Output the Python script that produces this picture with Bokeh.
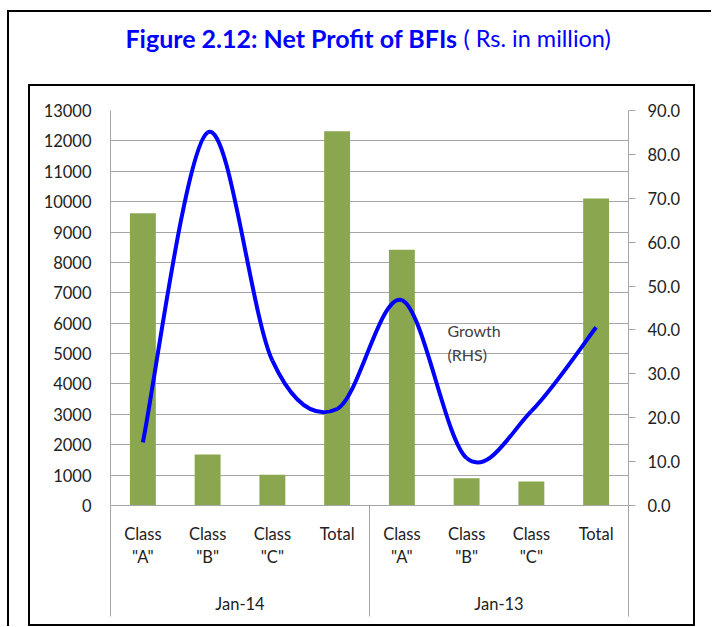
from bokeh.plotting import figure
from bokeh.layouts import row, column
from bokeh.models import (Range1d, LinearAxis, FixedTicker, NumeralTickFormatter,
                          Label, Grid, Spacer)
from bokeh.core.properties import value
from bokeh.embed import file_html
from bokeh.resources import INLINE

# ---------------- data ----------------
categories = ['Class\n"A"', 'Class\n"B"', 'Class\n"C"', 'Total',
              'Class\n"A"', 'Class\n"B"', 'Class\n"C"', 'Total']
groups = ["Jan-14", "Jan-13"]
net_profit = [9620, 1680, 1010, 12320, 8420, 900, 790, 10100]
growth = [14.4, 85.0, 33.0, 22.0, 46.8, 10.8, 21.5, 40.6]
left_ticks = list(range(0, 13001, 1000))
right_ticks = list(range(0, 91, 10))
title_bold = "Figure 2.12: Net Profit of BFIs"
title_rest = "( Rs. in million)"
series_label = "Growth\n(RHS)"

FONT = "Lato"
GRAY = "#A6A6A6"
TXT = "#222222"
BAR = "#8AA64F"
BLUE = "#0000FF"

n = len(categories)
xs = [i + 0.5 for i in range(n)]
group_size = n // len(groups)

# ---------------- main chart ----------------
p = figure(frame_width=518, frame_height=395,
           min_border_left=80, min_border_right=65,
           min_border_top=24, min_border_bottom=119,
           x_range=Range1d(0, n), y_range=Range1d(0, left_ticks[-1]),
           x_axis_type=None, y_axis_type=None,
           output_backend="svg", toolbar_location=None)
p.extra_y_ranges = {"growth": Range1d(0, right_ticks[-1])}
p.outline_line_color = None
p.background_fill_color = "white"
p.border_fill_color = "white"

# left axis
la = LinearAxis(ticker=FixedTicker(ticks=left_ticks))
la.axis_line_color = GRAY
la.major_tick_line_color = None
la.minor_tick_line_color = None
la.major_tick_out = 0
la.major_tick_in = 0
la.major_label_standoff = 19
la.major_label_text_font = FONT
la.major_label_text_font_size = "16.5px"
la.major_label_text_color = TXT
p.add_layout(la, "left")

# right axis
ra = LinearAxis(y_range_name="growth", ticker=FixedTicker(ticks=right_ticks),
                formatter=NumeralTickFormatter(format="0.0"))
ra.axis_line_color = GRAY
ra.major_tick_line_color = GRAY
ra.minor_tick_line_color = None
ra.major_tick_out = 7
ra.major_tick_in = 0
ra.major_label_standoff = 12
ra.major_label_text_font = FONT
ra.major_label_text_font_size = "16.5px"
ra.major_label_text_color = TXT
p.add_layout(ra, "right")

# category axis: category labels + group labels (fourth line),
# long minor ticks act as the group separators
gx = [float(g * group_size + group_size / 2) for g in range(len(groups))]
seps = [float(g * group_size) for g in range(len(groups) + 1)]
cat_ax = LinearAxis(ticker=FixedTicker(ticks=xs + gx, minor_ticks=seps))
overrides = {x: c for x, c in zip(xs, categories)}
overrides.update({x: "\n\n\n" + g for x, g in zip(gx, groups)})
cat_ax.major_label_overrides = overrides
cat_ax.axis_line_color = GRAY
cat_ax.major_tick_line_color = None
cat_ax.major_tick_out = 0
cat_ax.major_tick_in = 0
cat_ax.minor_tick_line_color = GRAY
cat_ax.minor_tick_out = 111
cat_ax.minor_tick_in = 0
cat_ax.major_label_standoff = -93
cat_ax.major_label_text_font = FONT
cat_ax.major_label_text_font_size = "16.5px"
cat_ax.major_label_text_color = TXT
cat_ax.major_label_text_line_height = 1.17
p.add_layout(cat_ax, "below")

# gridlines
p.add_layout(Grid(dimension=1, ticker=FixedTicker(ticks=left_ticks),
                  grid_line_color=GRAY, grid_line_width=1))

# bars
p.vbar(x=xs, top=net_profit, bottom=0, width=0.4, fill_color=BAR, line_color=None)

# smoothed growth line (Catmull-Rom -> cubic Bezier, like Excel's smoothed line)
pts = list(zip(xs, growth))
x0, y0, x1, y1, cx0, cy0, cx1, cy1 = ([] for _ in range(8))
for i in range(n - 1):
    pa = pts[i - 1] if i > 0 else pts[i]
    pb = pts[i]
    pc = pts[i + 1]
    pd = pts[i + 2] if i + 2 < n else pts[i + 1]
    x0.append(pb[0]); y0.append(pb[1])
    x1.append(pc[0]); y1.append(pc[1])
    cx0.append(pb[0] + (pc[0] - pa[0]) / 6); cy0.append(pb[1] + (pc[1] - pa[1]) / 6)
    cx1.append(pc[0] - (pd[0] - pb[0]) / 6); cy1.append(pc[1] - (pd[1] - pb[1]) / 6)
p.bezier(x0=x0, y0=y0, x1=x1, y1=y1, cx0=cx0, cy0=cy0, cx1=cx1, cy1=cy1,
         line_color=BLUE, line_width=4, y_range_name="growth")

# series label
p.add_layout(Label(x=5.205, y=6080, text=series_label, text_font=FONT,
                   text_font_size="16px", text_color="#404040",
                   text_baseline="top", text_align="left", text_line_height=1.25))

# ---------------- title ----------------
TW, TH = 667, 72
tf = figure(width=TW, height=TH, x_range=Range1d(0, TW), y_range=Range1d(0, TH),
            x_axis_type=None, y_axis_type=None, min_border=0,
            output_backend="svg", toolbar_location=None)
tf.outline_line_color = None
tf.grid.visible = False
tf.text(x=[429], y=[47], text=[title_bold], text_font=value(FONT),
        text_font_size="25px", text_font_style="bold", text_color=BLUE,
        text_align="right", text_baseline="middle")
tf.text(x=[435], y=[47], text=[title_rest], text_font=value(FONT),
        text_font_size="23.5px", text_color=BLUE,
        text_align="left", text_baseline="middle")

# ---------------- frames (thin black spacers) ----------------
def hline(w):
    return Spacer(width=w, height=2, styles={"background-color": "black"})

def vline(h):
    return Spacer(width=2, height=h, styles={"background-color": "black"})

inner_box = column(hline(667),
                   row(vline(538), p, vline(538)),
                   hline(667))
content = column(tf, inner_box)
layout = row(Spacer(width=7, height=10),
             column(Spacer(width=10, height=10),
                    hline(704),
                    row(vline(614), Spacer(width=19, height=10), content)))

open("out.html", "w").write(file_html(layout, INLINE))
